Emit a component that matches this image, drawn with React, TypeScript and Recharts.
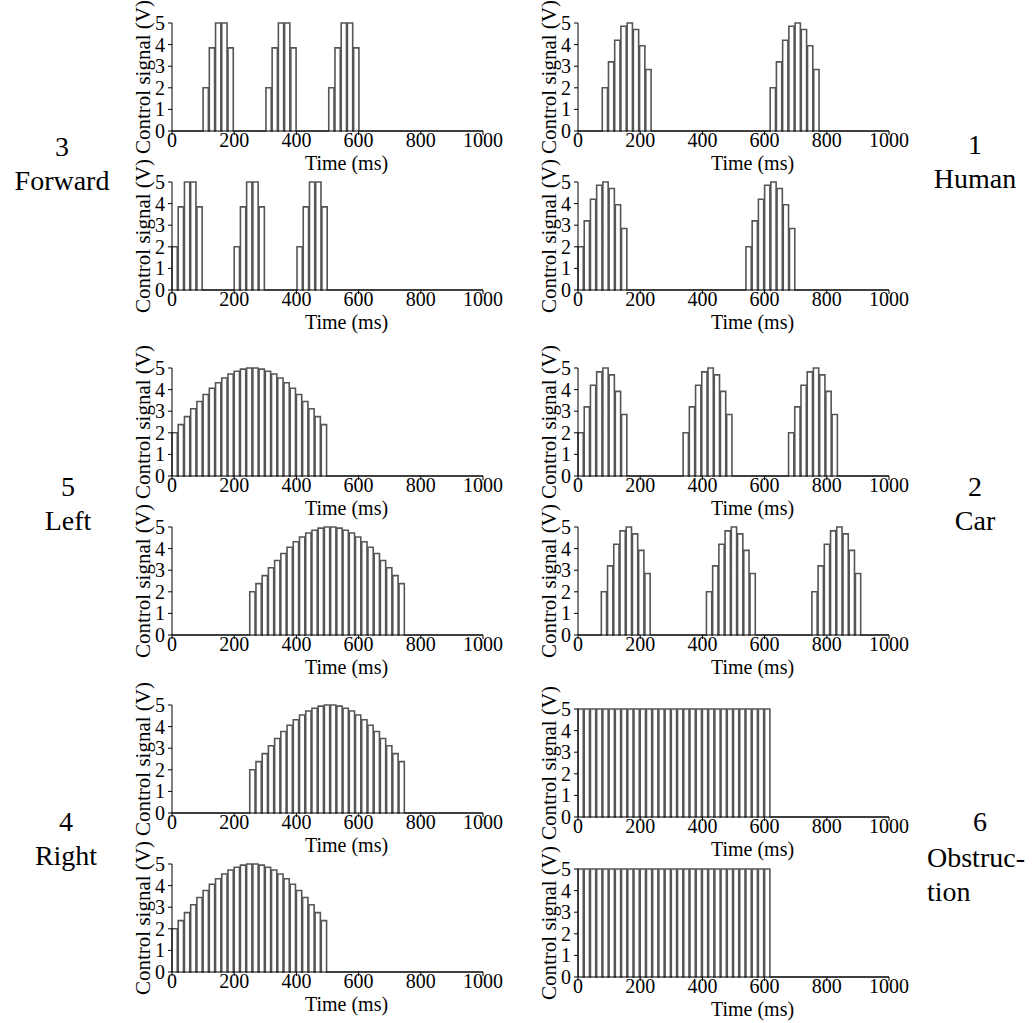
import React from "react";
import { Line, LineChart, XAxis, YAxis } from "recharts";

// tick values
const X_TICKS = [0, 200, 400, 600, 800, 1000];
const Y_TICKS = [0, 1, 2, 3, 4, 5];

// pulse train timing (ms)
const PULSE_PERIOD = 20;
const PULSE_WIDTH = 17;

// amplitudes of the pulses inside one burst (V)
const forwardAmps = [2, 3.85, 5, 5, 3.85];
const humanAmps = [2, 3.2, 4.2, 4.85, 5, 4.7, 3.95, 2.85];
const carAmps = [2, 3.2, 4.2, 4.82, 5, 4.68, 3.92, 2.85];
const turnAmps = [
    2, 2.38, 2.75, 3.11, 3.45, 3.77, 4.06, 4.32, 4.54, 4.72, 4.85, 4.95, 5,
    5, 4.95, 4.85, 4.72, 4.54, 4.32, 4.06, 3.77, 3.45, 3.11, 2.75, 2.38,
];
const obstructionAmps = [
    5, 5, 5, 5, 5, 5, 5, 5, 5, 5, 5, 5, 5, 5, 5, 5,
    5, 5, 5, 5, 5, 5, 5, 5, 5, 5, 5, 5, 5, 5, 5,
];

// burst start times (ms), two channels per command
const forwardStartsA = [100, 302, 504];
const forwardStartsB = [0, 200, 402];
const humanStartsA = [78, 618];
const humanStartsB = [0, 540];
const leftStartsA = [0];
const leftStartsB = [250];
const carStartsA = [0, 338, 677];
const carStartsB = [75, 413, 752];
const rightStartsA = [250];
const rightStartsB = [0];
const obstructionStarts = [0];

interface Point {
    t: number;
    v: number;
}

const buildSignal = (starts: number[], amps: number[]): Point[] => {
    const pts: Point[] = [{ t: 0, v: 0 }];
    starts.forEach((s) => {
        amps.forEach((a, i) => {
            const on = s + i * PULSE_PERIOD;
            const off = on + PULSE_WIDTH;
            pts.push({ t: on, v: 0 }, { t: on, v: a }, { t: off, v: a }, { t: off, v: 0 });
        });
    });
    pts.push({ t: 1000, v: 0 });
    return pts;
};

const FONT = "'Liberation Serif', 'Times New Roman', serif";
const PLOT_W = 311;
const PLOT_H = 108;
const Y_AXIS_W = 50;
const X_AXIS_H = 48;
const TOP = 22;
const RIGHT = 26;

const XTick = (props: any) => {
    const { x, y, payload } = props;
    return (
        <text x={x} y={y + 10} textAnchor="middle" fontSize={20} fontFamily={FONT} fill="#000">
            {payload.value}
        </text>
    );
};

const YTick = (props: any) => {
    const { x, y, payload } = props;
    return (
        <text x={x} y={y + 7} textAnchor="end" fontSize={20} fontFamily={FONT} fill="#000">
            {payload.value}
        </text>
    );
};

const SignalPanel: React.FC<{ left: number; top: number; data: Point[] }> = ({ left, top, data }) => (
    <div style={{ position: "absolute", left: left - Y_AXIS_W, top: top - TOP }}>
        <LineChart
            width={Y_AXIS_W + PLOT_W + RIGHT}
            height={TOP + PLOT_H + X_AXIS_H}
            data={data}
            margin={{ top: TOP, right: RIGHT, bottom: 0, left: 0 }}
        >
            <XAxis
                dataKey="t"
                type="number"
                domain={[0, 1000]}
                ticks={X_TICKS}
                interval={0}
                height={X_AXIS_H}
                stroke="#000"
                tickSize={4}
                tickMargin={2}
                tick={XTick}
                label={(p: any) => {
                    const vb = p.viewBox;
                    return (
                        <text x={vb.x + vb.width / 2 + 19} y={vb.y + 39} textAnchor="middle" fontSize={20} fontFamily={FONT} fill="#000">
                            Time (ms)
                        </text>
                    );
                }}
            />
            <YAxis
                type="number"
                domain={[0, 5]}
                ticks={Y_TICKS}
                interval={0}
                width={Y_AXIS_W}
                stroke="#000"
                tickSize={4}
                tickMargin={3}
                tick={YTick}
                label={(p: any) => {
                    const vb = p.viewBox;
                    const cx = vb.x + vb.width - 29;
                    const cy = vb.y + vb.height / 2;
                    return (
                        <text
                            x={cx}
                            y={cy}
                            transform={`rotate(-90, ${cx}, ${cy})`}
                            textAnchor="middle"
                            dominantBaseline="central"
                            fontSize={21}
                            fontFamily={FONT}
                            fill="#000"
                        >
                            Control signal (V)
                        </text>
                    );
                }}
            />
            <Line
                dataKey="v"
                type="linear"
                dot={false}
                activeDot={false}
                stroke="#555"
                strokeWidth={1.6}
                isAnimationActive={false}
            />
        </LineChart>
    </div>
);

const SideLabel: React.FC<{ x: number; y: number; lines: string[]; align?: "center" | "left" }> = ({ x, y, lines, align = "center" }) => (
    <div
        style={{
            position: "absolute",
            left: align === "center" ? x - 70 : x,
            top: y - 17,
            width: 140,
            textAlign: align,
            fontFamily: FONT,
            fontSize: 28,
            lineHeight: "34px",
            color: "#000",
            whiteSpace: "nowrap",
        }}
    >
        {lines.map((l) => (
            <div key={l}>{l}</div>
        ))}
    </div>
);

const LEFT_X = 172;
const RIGHT_X = 578;

const App: React.FC = () => {
    return (
        <div style={{ position: "absolute", left: 0, top: 0, width: 1034, height: 1023, background: "#fff", overflow: "hidden" }}>
            <SignalPanel left={LEFT_X} top={23} data={buildSignal(forwardStartsA, forwardAmps)} />
            <SignalPanel left={LEFT_X} top={182} data={buildSignal(forwardStartsB, forwardAmps)} />
            <SignalPanel left={LEFT_X} top={368} data={buildSignal(leftStartsA, turnAmps)} />
            <SignalPanel left={LEFT_X} top={527} data={buildSignal(leftStartsB, turnAmps)} />
            <SignalPanel left={LEFT_X} top={705} data={buildSignal(rightStartsA, turnAmps)} />
            <SignalPanel left={LEFT_X} top={864} data={buildSignal(rightStartsB, turnAmps)} />

            <SignalPanel left={RIGHT_X} top={23} data={buildSignal(humanStartsA, humanAmps)} />
            <SignalPanel left={RIGHT_X} top={182} data={buildSignal(humanStartsB, humanAmps)} />
            <SignalPanel left={RIGHT_X} top={368} data={buildSignal(carStartsA, carAmps)} />
            <SignalPanel left={RIGHT_X} top={527} data={buildSignal(carStartsB, carAmps)} />
            <SignalPanel left={RIGHT_X} top={709} data={buildSignal(obstructionStarts, obstructionAmps)} />
            <SignalPanel left={RIGHT_X} top={869} data={buildSignal(obstructionStarts, obstructionAmps)} />

            <SideLabel x={62} y={147} lines={["3", "Forward"]} />
            <SideLabel x={68} y={487} lines={["5", "Left"]} />
            <SideLabel x={66} y={822} lines={["4", "Right"]} />
            <SideLabel x={975} y={145} lines={["1", "Human"]} />
            <SideLabel x={975} y={487} lines={["2", "Car"]} />
            <SideLabel x={980} y={822} lines={["6"]} />
            <SideLabel x={927} y={858} lines={["Obstruc-", "tion"]} align="left" />
        </div>
    );
};

export default App;
